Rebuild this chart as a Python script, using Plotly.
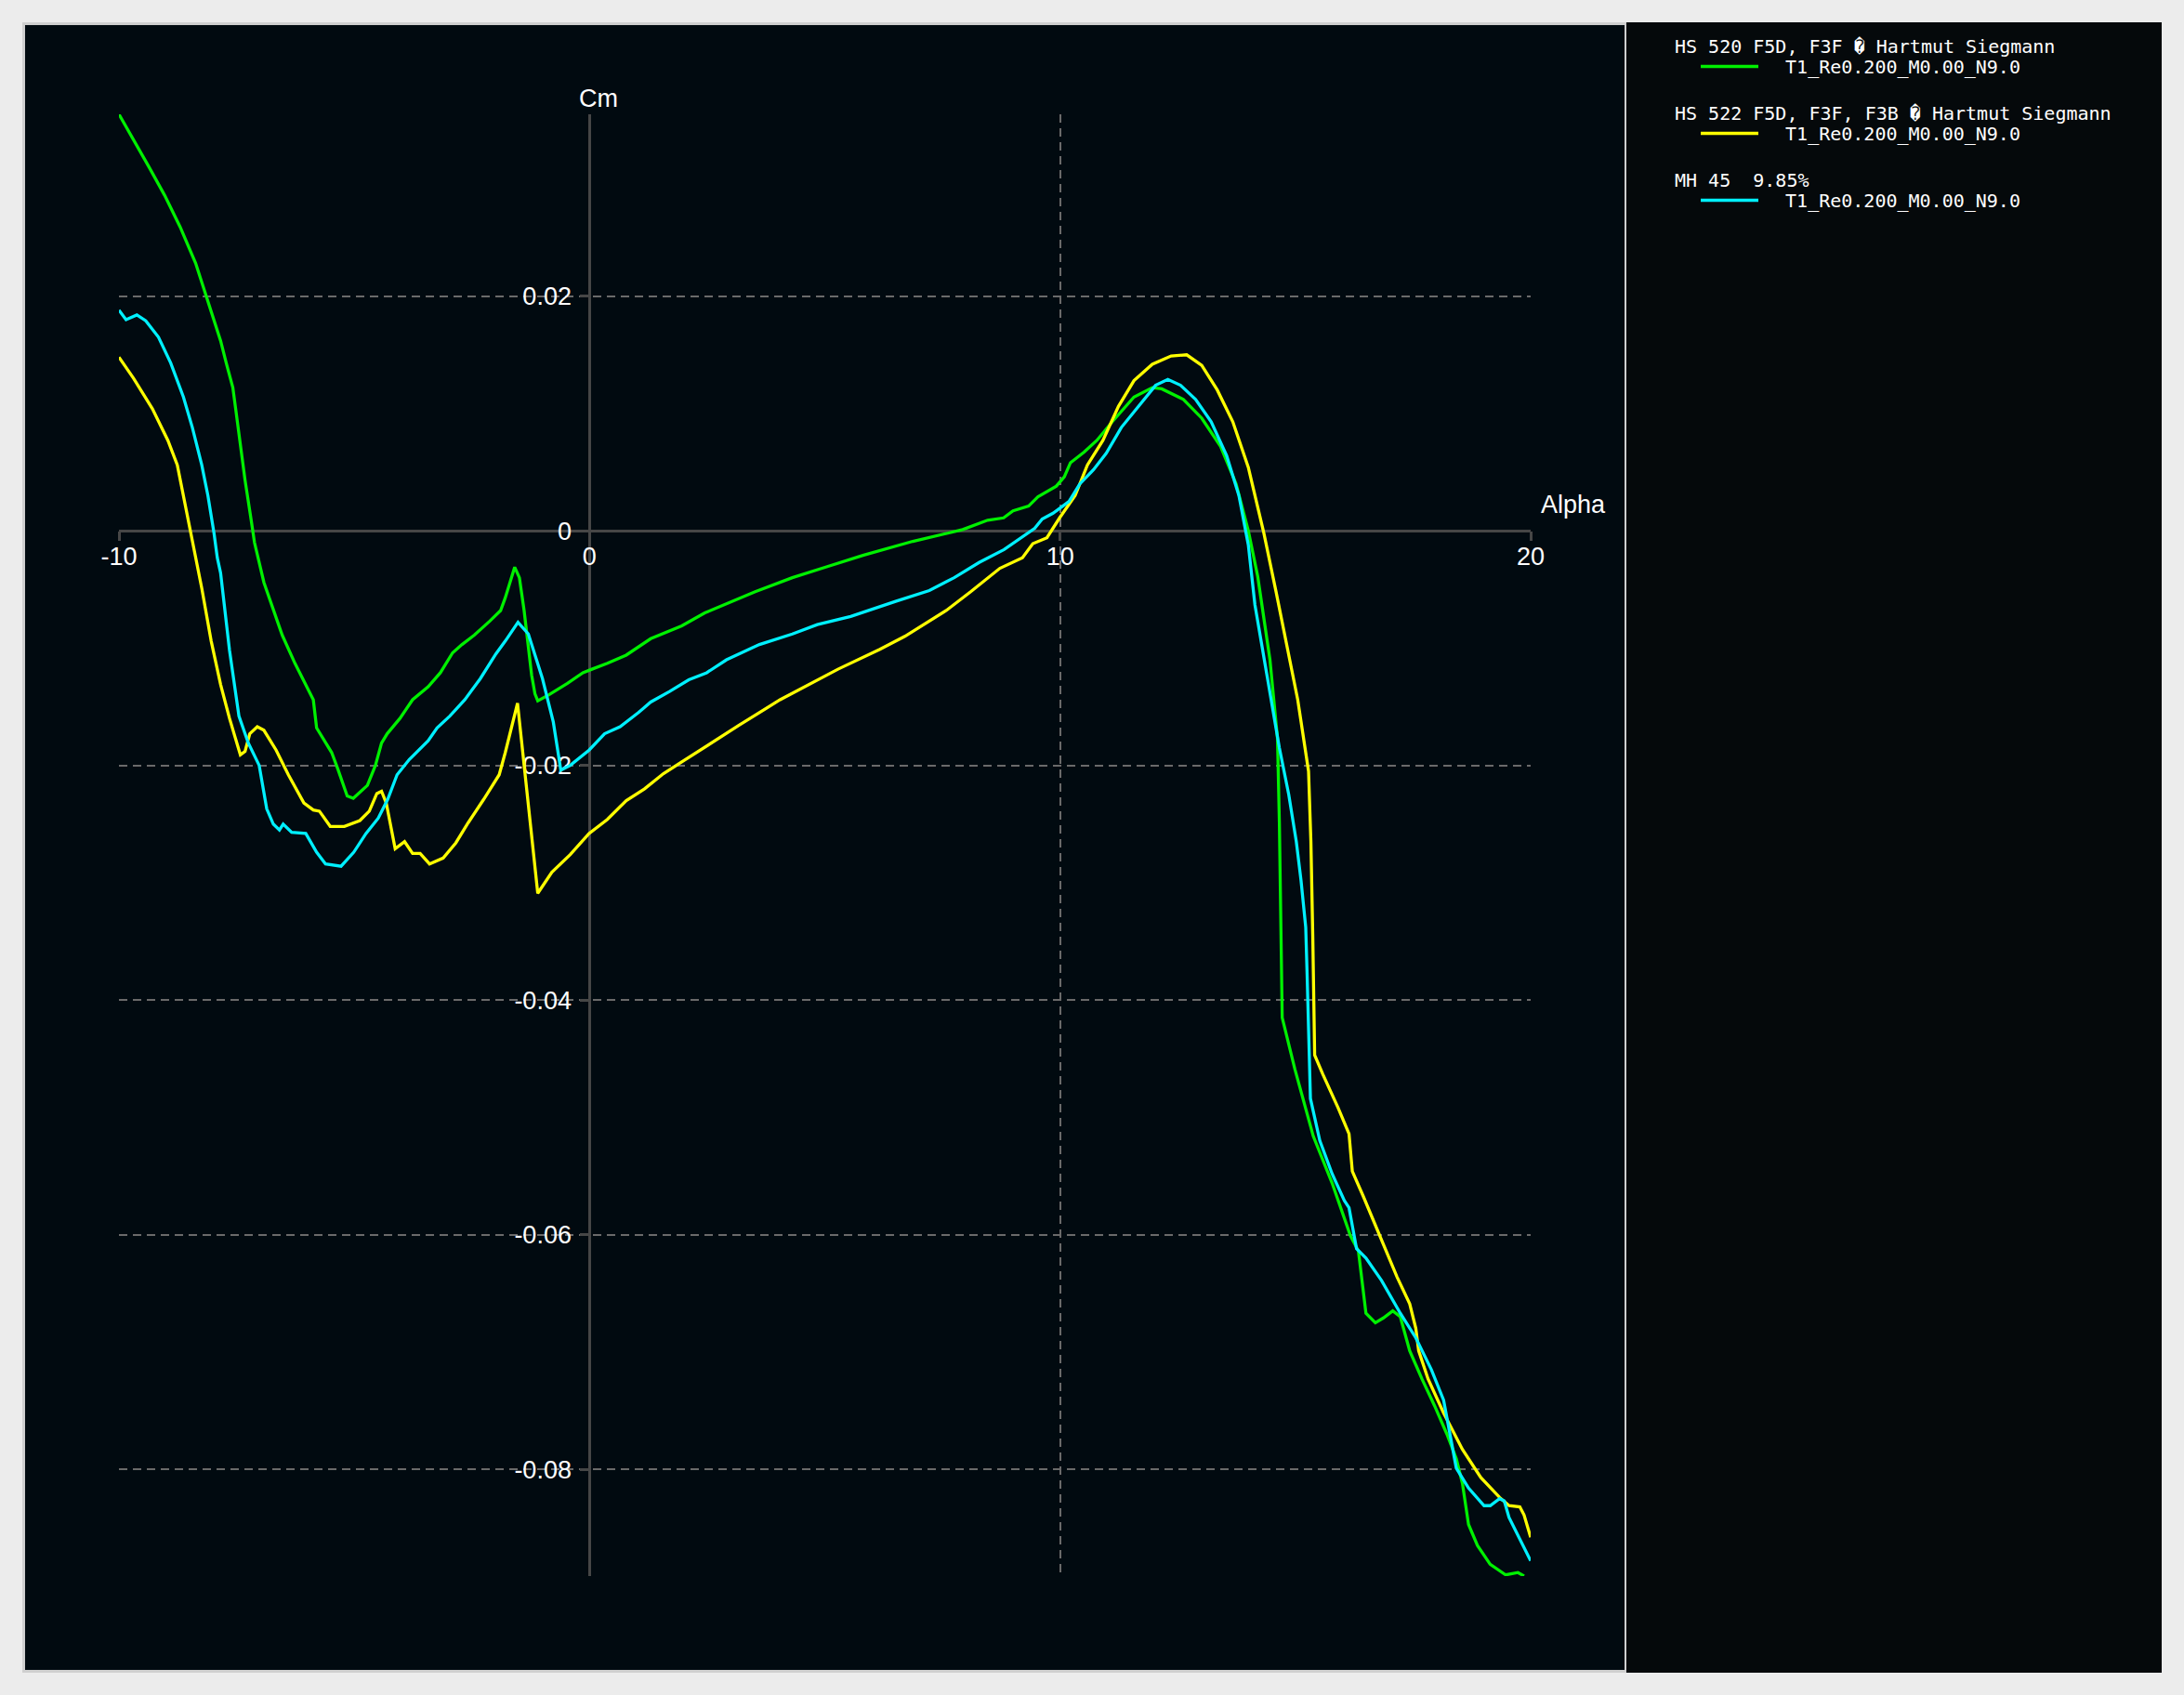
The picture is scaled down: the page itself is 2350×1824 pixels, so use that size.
import plotly.graph_objects as go

# ---------------- data ----------------
hs520_alpha = [-10.0, -9.68, -9.36, -9.03, -8.70, -8.37, -8.17, -7.98, -7.84, -7.72, -7.58, -7.52, -7.45, -7.38,
               -7.32, -7.19, -7.12, -6.92, -6.53,
               -6.26, -5.94, -5.87, -5.80, -5.48, -5.35, -5.15, -5.02, -4.72, -4.55, -4.42, -4.30,
               -4.03, -3.76, -3.43, -3.17, -2.91, -2.71, -2.45, -2.12, -1.89, -1.79, -1.59, -1.49,
               -1.39, -1.23, -1.16, -1.10, -0.87, -0.47, -0.14, 0.05, 0.38, 0.78, 1.30, 1.96,
               2.45, 3.52, 4.31, 5.02, 5.81, 6.87, 7.93, 8.46, 8.80, 9.00, 9.33, 9.53, 9.92,
               10.09, 10.22, 10.51, 10.78, 11.11, 11.57, 11.96, 12.16, 12.62, 13.01, 13.41, 13.74,
               14.00, 14.20, 14.46, 14.62, 14.66, 14.69, 14.72, 14.99, 15.38, 15.78, 16.17, 16.34,
               16.50, 16.70, 16.87, 17.07, 17.23, 17.43, 17.69, 17.96, 18.22, 18.42, 18.55, 18.68,
               18.87, 19.14, 19.47, 19.73, 19.86]
hs520_cm = [0.0355, 0.0333, 0.0310, 0.0286, 0.0259, 0.0228, 0.0203, 0.0181, 0.0162, 0.0143, 0.0122, 0.0104, 0.0083, 0.0064,
            0.0043, 0.0009, -0.0010, -0.0044, -0.0089,
            -0.0113, -0.0139, -0.0144, -0.0168, -0.0189, -0.0203, -0.0226, -0.0228, -0.0217, -0.0200, -0.0181, -0.0173,
            -0.0160, -0.0144, -0.0133, -0.0121, -0.0104, -0.0097, -0.0089, -0.0077, -0.0068, -0.0057, -0.0031, -0.0040,
            -0.0068, -0.0123, -0.0139, -0.0145, -0.0140, -0.0130, -0.0121, -0.0118, -0.0113, -0.0106, -0.0092, -0.0081,
            -0.0070, -0.0052, -0.0040, -0.0031, -0.0021, -0.0009, 0.0001, 0.0009, 0.0011, 0.0017, 0.0021, 0.0029, 0.0038,
            0.0046, 0.0058, 0.0067, 0.0077, 0.0093, 0.0114, 0.0122, 0.0121, 0.0112, 0.0096, 0.0072, 0.0040,
            0.0000, -0.0039, -0.0110, -0.0177, -0.0249, -0.0346, -0.0415, -0.0459, -0.0516, -0.0556, -0.0601, -0.0614,
            -0.0667, -0.0675, -0.0671, -0.0665, -0.0670, -0.0699, -0.0723, -0.0746, -0.0770, -0.0791, -0.0812, -0.0847,
            -0.0865, -0.0881, -0.0890, -0.0888, -0.0891]

hs522_alpha = [-10.0, -9.69, -9.29, -8.96, -8.76, -8.63, -8.50, -8.37, -8.24, -8.04, -7.84, -7.65, -7.42,
               -7.32, -7.22, -7.06, -6.92, -6.66, -6.40, -6.07, -5.87, -5.74, -5.51, -5.21, -4.88, -4.68,
               -4.52, -4.42, -4.32, -4.13, -3.93, -3.76, -3.60, -3.40, -3.11, -2.84, -2.58, -2.25, -1.92,
               -1.79, -1.53, -1.10, -0.80, -0.41, -0.01, 0.38, 0.78, 1.17, 1.57, 1.96, 2.46, 3.17, 4.05,
               4.58, 5.28, 6.17, 6.70, 7.58, 8.10, 8.72, 9.20, 9.42, 9.72, 9.99, 10.32, 10.58, 10.91,
               11.24, 11.57, 11.96, 12.36, 12.69, 13.01, 13.34, 13.67, 14.00, 14.33, 14.59, 14.79, 15.05,
               15.28, 15.33, 15.37, 15.41, 15.58, 15.91, 16.14, 16.21, 16.44, 16.83, 17.16, 17.43, 17.56,
               17.62, 17.82, 18.15, 18.55, 18.94, 19.34, 19.54, 19.77, 19.86, 19.93, 20.0]
hs522_cm = [0.0148, 0.0130, 0.0104, 0.0077, 0.0056, 0.0030, 0.0003, -0.0023, -0.0049, -0.0094, -0.0131, -0.0160, -0.0191,
            -0.0188, -0.0173, -0.0167, -0.0170, -0.0187, -0.0208, -0.0232, -0.0238, -0.0239, -0.0252, -0.0252, -0.0247, -0.0239,
            -0.0224, -0.0222, -0.0232, -0.0271, -0.0265, -0.0275, -0.0275, -0.0284, -0.0279, -0.0266, -0.0249, -0.0229, -0.0208,
            -0.0189, -0.0147, -0.0309, -0.0291, -0.0276, -0.0258, -0.0246, -0.0230, -0.0220, -0.0207, -0.0197, -0.0184, -0.0166, -0.0144,
            -0.0133, -0.0118, -0.0101, -0.0090, -0.0068, -0.0052, -0.0032, -0.0023, -0.0011, -0.0006, 0.0011, 0.0030, 0.0056, 0.0077,
            0.0106, 0.0128, 0.0142, 0.0149, 0.0150, 0.0141, 0.0120, 0.0093, 0.0054, -0.0002, -0.0052, -0.0092, -0.0144,
            -0.0205, -0.0265, -0.0346, -0.0447, -0.0463, -0.0492, -0.0514, -0.0546, -0.0567, -0.0604, -0.0636, -0.0659, -0.0680,
            -0.0699, -0.0723, -0.0752, -0.0783, -0.0807, -0.0824, -0.0831, -0.0832, -0.0839, -0.0848, -0.0858]

mh45_alpha = [-10.0, -9.85, -9.62, -9.43, -9.16, -8.90, -8.63, -8.44, -8.24, -8.11, -7.98, -7.91, -7.84,
              -7.65, -7.45, -7.25, -7.02, -6.86, -6.72, -6.59, -6.51, -6.33, -6.03, -5.80, -5.61, -5.28,
              -5.01, -4.75, -4.49, -4.29, -4.09, -3.83, -3.43, -3.24, -2.97, -2.65, -2.32, -1.99, -1.79,
              -1.52, -1.30, -1.00, -0.77, -0.61, -0.41, -0.01, 0.32, 0.65, 1.04, 1.30, 1.70, 2.11, 2.49,
              2.91, 3.61, 4.31, 4.84, 5.55, 6.52, 7.22, 7.75, 8.28, 8.81, 9.13, 9.46, 9.62, 9.85, 10.19,
              10.42, 10.71, 10.98, 11.30, 11.70, 12.03, 12.29, 12.56, 12.88, 13.21, 13.54, 13.80, 14.00,
              14.14, 14.40, 14.66, 14.86, 15.02, 15.12, 15.22, 15.25, 15.28, 15.32, 15.52, 15.78, 16.04,
              16.14, 16.30, 16.50, 16.83, 17.23, 17.56, 17.89, 18.15, 18.28, 18.42, 18.68, 19.01, 19.14,
              19.34, 19.44, 19.54, 20.0]
mh45_cm = [0.0188, 0.0180, 0.0184, 0.0179, 0.0165, 0.0143, 0.0114, 0.0088, 0.0056, 0.0030, -0.0002, -0.0023, -0.0036,
           -0.0102, -0.0158, -0.0181, -0.0200, -0.0237, -0.0250, -0.0255, -0.0250, -0.0257, -0.0258, -0.0274, -0.0284, -0.0286,
           -0.0274, -0.0258, -0.0245, -0.0229, -0.0208, -0.0195, -0.0179, -0.0168, -0.0158, -0.0144, -0.0126, -0.0105, -0.0094,
           -0.0078, -0.0088, -0.0126, -0.0163, -0.0204, -0.0200, -0.0187, -0.0173, -0.0167, -0.0155, -0.0146, -0.0137, -0.0127, -0.0121,
           -0.0110, -0.0097, -0.0088, -0.0080, -0.0073, -0.0060, -0.0051, -0.0040, -0.0027, -0.0016, -0.0007, 0.0002, 0.0010, 0.0015, 0.0025,
           0.0040, 0.0052, 0.0066, 0.0088, 0.0108, 0.0124, 0.0129, 0.0124, 0.0112, 0.0093, 0.0064, 0.0030, -0.0012,
           -0.0063, -0.0124, -0.0185, -0.0225, -0.0265, -0.0298, -0.0338, -0.0379, -0.0427, -0.0484, -0.0520, -0.0548, -0.0571,
           -0.0577, -0.0612, -0.0620, -0.0639, -0.0667, -0.0688, -0.0715, -0.0741, -0.0770, -0.0799, -0.0816, -0.0831, -0.0831,
           -0.0825, -0.0827, -0.0841, -0.0878]

series_titles = ["HS 520 F5D, F3F \ufffd Hartmut Siegmann",
                 "HS 522 F5D, F3F, F3B \ufffd Hartmut Siegmann",
                 "MH 45  9.85%"]
series_names = ["T1_Re0.200_M0.00_N9.0"] * 3
series_colors = ["#00f000", "#ffff00", "#00f0ff"]

x_ticks = [-10, 0, 10, 20]
x_ticktext = ["-10", "0", "10", "20"]
y_ticks = [0.02, 0, -0.02, -0.04, -0.06, -0.08]
y_ticktext = ["0.02", "0", "-0.02", "-0.04", "-0.06", "-0.08"]

X_RANGE = [-10, 20]
Y_RANGE = [-0.0891, 0.0355]

# ---------------- layout geometry (pixels) ----------------
W_FIG, H_FIG = 2350, 1824
M_L, M_R, M_T, M_B = 128, 703, 123, 128
PW = W_FIG - M_L - M_R
PH = H_FIG - M_T - M_B


def px(X):
    return (X - M_L) / PW


def py(Y):
    return (H_FIG - M_B - Y) / PH


LABEL_FONT = dict(family="Liberation Sans, Arial, sans-serif", size=27, color="#ffffff")
MONO_FONT = dict(family="DejaVu Sans Mono, monospace", size=20, color="#ffffff")

fig = go.Figure()
for xs, ys, title, name, col in zip([hs520_alpha, hs522_alpha, mh45_alpha],
                                    [hs520_cm, hs522_cm, mh45_cm],
                                    series_titles, series_names, series_colors):
    fig.add_trace(go.Scatter(
        x=xs, y=ys, mode="lines", name="\u00a0\u00a0" + name,
        legendgroup=title,
        line=dict(color=col, width=3.3),
    ))

x_pos = (0 - X_RANGE[0]) / (X_RANGE[1] - X_RANGE[0])
y_pos = (0 - Y_RANGE[0]) / (Y_RANGE[1] - Y_RANGE[0])

axis_common = dict(
    showgrid=True, gridcolor="#6a6a6a", griddash="9px,6px", gridwidth=1.5,
    zeroline=True, zerolinecolor="#464646", zerolinewidth=3,
    ticks="outside", ticklen=10, tickwidth=3, tickcolor="#464646",
    tickfont=LABEL_FONT,
    showline=False, layer="below traces", anchor="free", fixedrange=True,
)

title_annotations = []
for i, t in enumerate(series_titles):
    title_annotations.append(dict(
        text=t, x=px(1800), xref="paper", y=py(50 + 72 * i), yref="paper",
        xanchor="left", yanchor="middle", showarrow=False, font=MONO_FONT))

fig.update_layout(
    width=W_FIG, height=H_FIG,
    margin=dict(l=M_L, r=M_R, t=M_T, b=M_B, pad=0),
    paper_bgcolor="#ececec", plot_bgcolor="#010a10",
    xaxis=dict(range=X_RANGE, tickmode="array", tickvals=x_ticks, ticktext=x_ticktext,
               position=y_pos, ticklabelstandoff=-7, **axis_common),
    yaxis=dict(range=Y_RANGE, tickmode="array", tickvals=y_ticks, ticktext=y_ticktext,
               position=x_pos, ticklabelstandoff=4, **axis_common),
    showlegend=True,
    legend=dict(
        x=px(1797), y=py(52), xanchor="left", yanchor="top",
        bgcolor="rgba(0,0,0,0)", borderwidth=0,
        font=MONO_FONT,
        tracegroupgap=43, itemwidth=62, indentation=28,
    ),
    shapes=[
        dict(type="rect", xref="paper", yref="paper", x0=px(24), x1=px(1750), y0=py(1800), y1=py(24),
             fillcolor="#cfcfcf", line=dict(width=0), layer="below"),
        dict(type="rect", xref="paper", yref="paper", x0=px(27), x1=px(1748), y0=py(1797), y1=py(27),
             fillcolor="#010a10", line=dict(width=0), layer="below"),
        dict(type="rect", xref="paper", yref="paper", x0=px(1750), x1=px(2326), y0=py(1800), y1=py(24),
             fillcolor="#05090b", line=dict(width=0), layer="below"),
    ],
    annotations=[
        dict(text="Cm", x=0, xref="x", y=1, yref="paper", xanchor="center", yanchor="bottom",
             xshift=10, showarrow=False, font=LABEL_FONT),
        dict(text="Alpha", x=20, xref="x", y=0, yref="y", xanchor="left", yanchor="middle",
             xshift=9, yshift=28, showarrow=False, font=LABEL_FONT),
    ] + title_annotations,
)

fig.write_html(
    "out.html",
    config={"displayModeBar": False},
    post_script="document.body.style.margin='0';document.body.style.padding='0';"
                "document.body.style.background='#ececec';"
                "document.documentElement.style.background='#ececec';",
)
